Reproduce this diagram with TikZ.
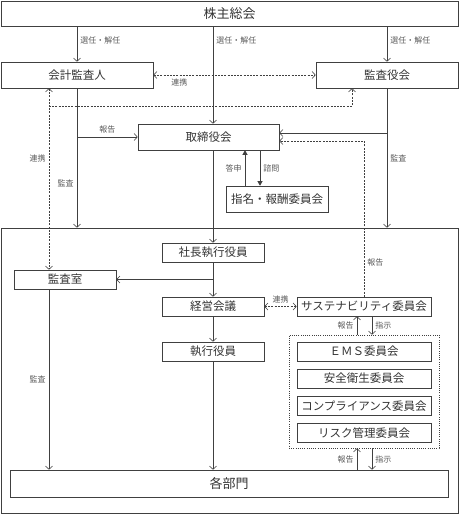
\documentclass[tikz,border=0pt]{standalone}
\usepackage{fontspec}
\setmainfont{Noto Sans CJK JP}
\usepackage{xcolor}
\definecolor{cline}{rgb}{0.25,0.25,0.25}
\definecolor{ctext}{rgb}{0.2,0.2,0.2}
\definecolor{clabel}{rgb}{0.35,0.35,0.35}
\usepackage{tikz}
\usetikzlibrary{arrows.meta, positioning}
\tikzset{
>={Straight Barb[length=3.2pt,width=7pt]},
Box/.style={
	draw=cline, rectangle,
	line width=0.6pt,
	inner sep=0pt,
	text=ctext,
	font=\fontsize{11.5}{13}\selectfont
},
BigBox/.style={
	Box,
	font=\fontsize{13}{15}\selectfont
},
SmallBox/.style={
	Box,
	minimum width=102pt,
	minimum height=19pt
},
CommitteeBox/.style={
	Box,
	minimum width=134pt,
	minimum height=19pt
},
Edge/.style={
	draw=cline, line width=0.6pt, ->
},
DashEdge/.style={
	Edge,
	dash pattern=on 2pt off 1.2pt
},
FilledEdge/.style={
	draw=cline, line width=0.6pt,
	-{Triangle[length=4.5pt,width=5pt]}
},
Label/.style={
	text=clabel, inner sep=3pt,
	font=\fontsize{8}{9}\selectfont
}
}

\begin{document}
\begin{tikzpicture}[x=1pt, y=-1pt]
	\useasboundingbox (0,0) rectangle (459,514);

	\node[BigBox, minimum width=457pt, minimum height=25pt] (Meeting) at (229.5,13.5) {株主総会};
	\node[Box, minimum width=152pt, minimum height=26pt] (Accountant) at (77,75) {会計監査人};
	\node[Box, minimum width=142pt, minimum height=26pt] (Auditors) at (387,75) {監査役会};
	\node[Box, minimum width=141pt, minimum height=26pt] (Board) at (208.5,137) {取締役会};
	\node[SmallBox, minimum height=26pt] (Nomination) at (277,199) {指名・報酬委員会};

	\node[Box, minimum width=457pt, minimum height=285pt] (Executive) at (229.5,370.5) {};
	\node[SmallBox] (President) at (213,252.5) {社長執行役員};
	\node[SmallBox] (AuditOffice) at (65,279.5) {監査室};
	\node[SmallBox] (Management) at (213,306.5) {経営会議};
	\node[SmallBox] (Officers) at (213,351.5) {執行役員};
	\node[BigBox, minimum width=438pt, minimum height=27pt] (Divisions) at (229,483.5) {各部門};

	\node[CommitteeBox] (Sustain) at (364,306.5) {サステナビリティ委員会};
	\node[draw=cline, line width=0.6pt, dash pattern=on 1pt off 1.2pt,
		minimum width=150pt, minimum height=113pt] (Committees) at (364,391.5) {};
	\node[CommitteeBox] (EMS) at (364,351.5) {ＥＭＳ委員会};
	\node[CommitteeBox, below=7.5pt of EMS] (Safety) {安全衛生委員会};
	\node[CommitteeBox, below=7.5pt of Safety] (Compliance) {コンプライアンス委員会};
	\node[CommitteeBox, below=7.5pt of Compliance] (Risk) {リスク管理委員会};

	\coordinate (AuditCorner) at (49,106);
	\coordinate (AuditEnd) at (352,106);
	\coordinate (BoardIn) at ([yshift=4pt]Board.east);
	\coordinate (BoardRep) at ([yshift=-4pt]Board.east);
	\coordinate (AnswerX) at ([xshift=-32pt]Nomination.north);
	\coordinate (ConsultX) at ([xshift=-17pt]Nomination.north);
	\coordinate (ReportX) at ([xshift=-7pt]Committees.north);
	\coordinate (OrderX) at ([xshift=8pt]Committees.north);

	\draw[Edge] (Meeting.south -| Accountant) -- node[Label, right, pos=0.4] {選任・解任} (Accountant);
	\draw[Edge] (Meeting.south -| Auditors) -- node[Label, right, pos=0.4] {選任・解任} (Auditors);
	\draw[Edge] (Meeting.south -| President.north) -- node[Label, right, pos=0.15] {選任・解任} (Board.north -| President.north);
	\draw[DashEdge, <->] (Accountant) -- node[Label, below, pos=0.16] {連携} (Auditors);

	\draw[DashEdge, <->] (Accountant.south -| AuditCorner) -- node[Label, left, pos=0.385] {連携} (AuditOffice.north -| AuditCorner);
	\draw[DashEdge] (AuditCorner) -- (AuditEnd) -- (Auditors.south -| AuditEnd);

	\draw[Edge] (Accountant) -- node[Label, left, pos=0.68] {監査} (Accountant.south |- Executive.north);
	\draw[Edge] (Board.west -| Accountant.south) -- node[Label, above] {報告} (Board.west);
	\draw[Edge] (Auditors) -- node[Label, right, pos=0.5] {監査} (Auditors.south |- Executive.north);
	\draw[Edge] (BoardIn -| Auditors.south) -- (BoardIn);
	\draw[DashEdge] (Sustain.north) |- node[Label, right, pos=0.11] {報告} (BoardRep);

	\draw[FilledEdge] (AnswerX) -- node[Label, left] {答申} (AnswerX |- Board.south);
	\draw[FilledEdge] (ConsultX |- Board.south) -- node[Label, right] {諮問} (ConsultX);

	\draw[Edge] (Board.south -| President.north) -- (President.north);
	\draw[Edge] (President) -- (Management);
	\draw[Edge] (AuditOffice.east -| President.south) -- (AuditOffice.east);
	\draw[Edge] (Management) -- (Officers);
	\draw[Edge] (Officers) -- (Officers.south |- Divisions.north);
	\draw[Edge] (AuditOffice.south -| AuditCorner) -- node[Label, left] {監査} (Divisions.north -| AuditCorner);
	\draw[DashEdge, <->] (Management) -- node[Label, above] {連携} (Sustain);

	\draw[Edge] (ReportX) -- node[Label, left] {報告} (ReportX |- Sustain.south);
	\draw[Edge] (OrderX |- Sustain.south) -- node[Label, right] {指示} (OrderX);
	\draw[Edge] (ReportX |- Divisions.north) -- node[Label, left] {報告} (ReportX |- Committees.south);
	\draw[Edge] (OrderX |- Committees.south) -- node[Label, right] {指示} (OrderX |- Divisions.north);
\end{tikzpicture}
\end{document}
